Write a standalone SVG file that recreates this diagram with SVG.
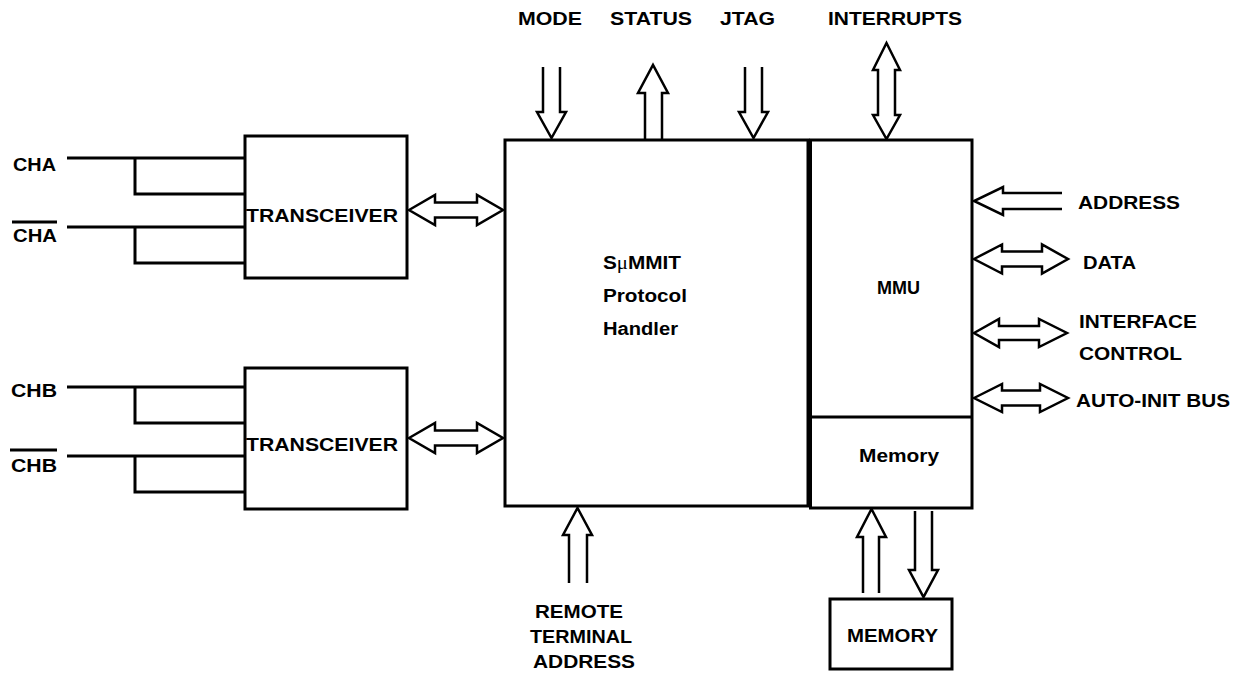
<svg xmlns="http://www.w3.org/2000/svg" width="1238" height="675" viewBox="0 0 1238 675">
<style>
  .box{fill:#fff;stroke:#000;stroke-width:3}
  .ln{fill:none;stroke:#000;stroke-width:3}
  .arr{fill:#fff;stroke:#000;stroke-width:2.5;stroke-linejoin:miter}
  .t{font-family:"Liberation Sans",Arial,sans-serif;font-weight:bold;font-size:18px;fill:#000}
  .mu{font-family:"Liberation Serif","DejaVu Serif",serif;font-weight:normal}
</style>
<rect width="1238" height="675" fill="#fff"/>

<g id="connectors">
  <path class="ln" d="M67,158 H245 M135,158 V194 H245 M67,227 H245 M135,227 V263 H245"/>
  <path class="ln" d="M67,387 H245 M135,387 V423 H245 M67,456 H245 M135,456 V492 H245"/>
  <path class="arr" d="M409,210 L435,195 V202.5 H477 V195 L503,210 L477,225 V217.5 H435 V225 Z"/>
  <path class="arr" d="M409,438 L435,423 V430.5 H477 V423 L503,438 L477,453 V445.5 H435 V453 Z"/>
  <path class="arr" d="M543,67 V112 H537 L551.5,138 L566,112 H560 V67"/>
  <path class="arr" d="M645,139 V93 H638 L653,65 L668,93 H662 V139"/>
  <path class="arr" d="M745,67 V112 H739 L753.5,138 L768,112 H762 V67"/>
  <path class="arr" d="M886.5,43 L900,70 H895 V115 H900 L886.5,139 L873,115 H878 V70 H873 Z"/>
  <path class="arr" d="M1062,193 H1003 V187 L974,201 L1003,215 V209 H1062"/>
  <path class="arr" d="M974,259 L1002,244.5 V251.5 H1042 V244.5 L1068,259 L1042,273.5 V266.5 H1002 V273.5 Z"/>
  <path class="arr" d="M974,333 L999,319 V326 H1039 V319 L1067,333 L1039,347 V340 H999 V347 Z"/>
  <path class="arr" d="M974,398 L1002,384 V390.5 H1040 V384 L1068,398 L1040,412 V405.5 H1002 V412 Z"/>
  <path class="arr" d="M569,583 V535 H563 L577.5,508 L592,535 H587 V583"/>
  <path class="arr" d="M863,593 V537 H857 L871.5,509 L886,537 H879 V593"/>
  <path class="arr" d="M915,511 V570 H909 L923.5,597 L938,570 H932 V511"/>

  <text class="t" x="518" y="25" textLength="64" lengthAdjust="spacingAndGlyphs">MODE</text>
  <text class="t" x="610" y="25" textLength="82" lengthAdjust="spacingAndGlyphs">STATUS</text>
  <text class="t" x="720" y="25" textLength="55" lengthAdjust="spacingAndGlyphs">JTAG</text>
  <text class="t" x="828" y="25" textLength="134" lengthAdjust="spacingAndGlyphs">INTERRUPTS</text>

  <text class="t" x="13" y="171" textLength="43" lengthAdjust="spacingAndGlyphs">CHA</text>
  <text class="t" x="13" y="242" textLength="44" lengthAdjust="spacingAndGlyphs">CHA</text>
  <path class="ln" d="M12,222 H57" stroke-width="2"/>
  <text class="t" x="11" y="397" textLength="46" lengthAdjust="spacingAndGlyphs">CHB</text>
  <text class="t" x="11" y="472" textLength="46" lengthAdjust="spacingAndGlyphs">CHB</text>
  <path class="ln" d="M10,450 H57" stroke-width="2"/>

  <text class="t" x="1078" y="209" textLength="102" lengthAdjust="spacingAndGlyphs">ADDRESS</text>
  <text class="t" x="1083" y="269" textLength="53" lengthAdjust="spacingAndGlyphs">DATA</text>
  <text class="t" x="1079" y="328" textLength="118" lengthAdjust="spacingAndGlyphs">INTERFACE</text>
  <text class="t" x="1079" y="360" textLength="103" lengthAdjust="spacingAndGlyphs">CONTROL</text>
  <text class="t" x="1076" y="407" textLength="154" lengthAdjust="spacingAndGlyphs">AUTO-INIT BUS</text>

  <text class="t" x="579" y="618" text-anchor="middle" textLength="88" lengthAdjust="spacingAndGlyphs">REMOTE</text>
  <text class="t" x="581" y="643" text-anchor="middle" textLength="102" lengthAdjust="spacingAndGlyphs">TERMINAL</text>
  <text class="t" x="584" y="668" text-anchor="middle" textLength="102" lengthAdjust="spacingAndGlyphs">ADDRESS</text>
</g>

<g id="transceiver-a">
  <rect class="box" x="245" y="136" width="162" height="142"/>
  <text class="t" x="246" y="222" textLength="152" lengthAdjust="spacingAndGlyphs">TRANSCEIVER</text>
</g>

<g id="transceiver-b">
  <rect class="box" x="245" y="368" width="162" height="141"/>
  <text class="t" x="246" y="451" textLength="152" lengthAdjust="spacingAndGlyphs">TRANSCEIVER</text>
</g>

<g id="protocol-handler">
  <rect class="box" x="505" y="140" width="303" height="366"/>
  <text class="t" x="603" y="269" textLength="78" lengthAdjust="spacingAndGlyphs">S<tspan class="mu">μ</tspan>MMIT</text>
  <text class="t" x="603" y="302" textLength="84" lengthAdjust="spacingAndGlyphs">Protocol</text>
  <text class="t" x="603" y="335" textLength="75" lengthAdjust="spacingAndGlyphs">Handler</text>
</g>

<g id="mmu">
  <rect class="box" x="810.5" y="140" width="161.5" height="368"/>
  <path class="ln" d="M810,417 H972" stroke-width="2"/>
  <text class="t" x="877" y="294" textLength="43" lengthAdjust="spacingAndGlyphs">MMU</text>
  <text class="t" x="859" y="462" textLength="80" lengthAdjust="spacingAndGlyphs">Memory</text>
</g>

<g id="memory">
  <rect class="box" x="830" y="599" width="122" height="70"/>
  <text class="t" x="847" y="642" textLength="91" lengthAdjust="spacingAndGlyphs">MEMORY</text>
</g>
</svg>
